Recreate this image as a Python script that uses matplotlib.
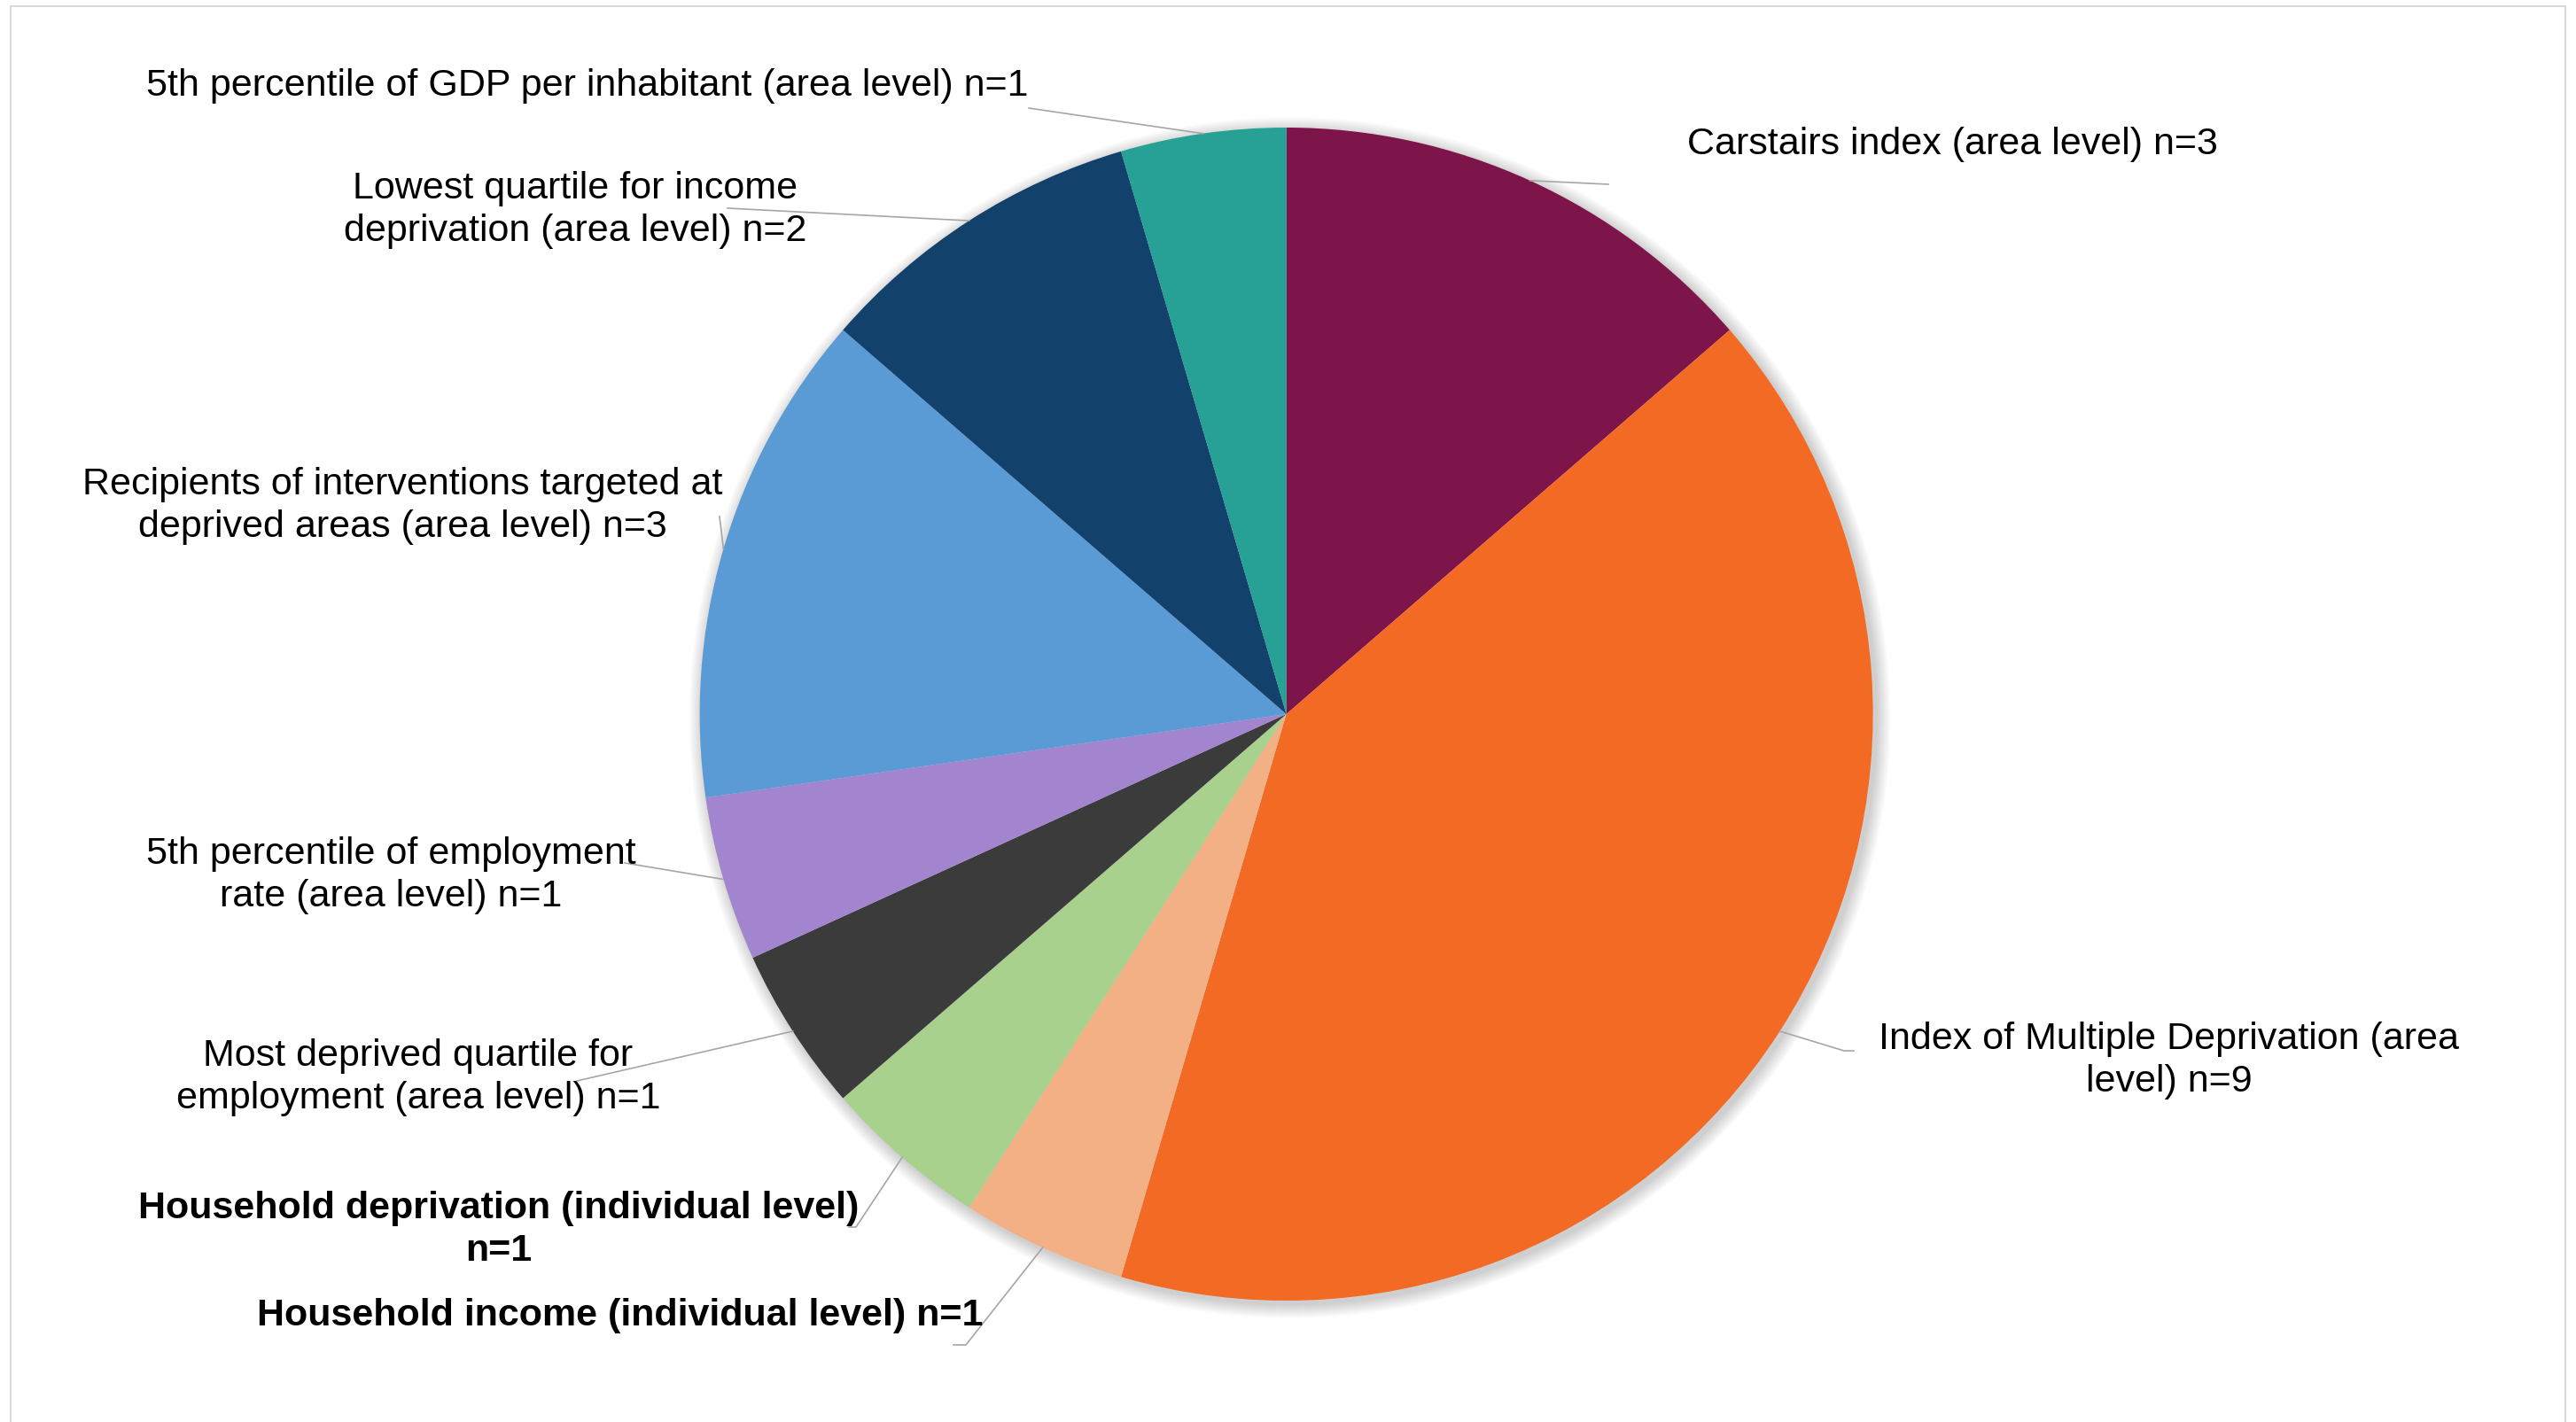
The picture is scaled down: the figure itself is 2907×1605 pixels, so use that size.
import numpy as np
import matplotlib
matplotlib.use("Agg")
import matplotlib.pyplot as plt
from matplotlib.patches import Circle, Rectangle

W, H = 2907, 1605

labels = [
    "Carstairs index (area level) n=3",
    "Index of Multiple Deprivation (area\nlevel) n=9",
    "Household income (individual level) n=1",
    "Household deprivation (individual level)\nn=1",
    "Most deprived quartile for\nemployment (area level) n=1",
    "5th percentile of employment\nrate (area level) n=1",
    "Recipients of interventions targeted at\ndeprived areas (area level) n=3",
    "Lowest quartile for income\ndeprivation (area level) n=2",
    "5th percentile of GDP per inhabitant (area level) n=1",
]
counts = [3, 9, 1, 1, 1, 1, 3, 2, 1]
colors = ["#7E154A", "#F26A24", "#F2B084", "#A9D18E", "#3B3B3B",
          "#A385CF", "#5B9BD5", "#12416B", "#27A195"]
bold = [False, False, True, True, False, False, False, False, False]

# layout in pixel coords (y measured from top)
label_xy = [(2203, 163), (2448, 1197), (700, 1485), (563, 1388), (472, 1216),
            (441, 988), (454, 571), (649, 237), (663, 97)]
leader_end = [[(1815, 208)], [(2081, 1186), (2092, 1186)], [(1090, 1518), (1076, 1518)],
              [(966, 1385), (958, 1385)], [(651, 1220)], [(705, 974)], [(812, 583)],
              [(821, 235)], [(1161, 122)]]

CX, CY, R = 1451.6, 806, 662

fig = plt.figure(figsize=(W / 100, H / 100), dpi=100)
ax = fig.add_axes([0, 0, 1, 1])

# border
ax.add_patch(Rectangle((12, -20), W - 24, H - 7 + 20, fill=False,
                       edgecolor="#D9D9D9", linewidth=1.5, zorder=0))

# soft shadow
for i in range(16):
    ax.add_patch(Circle((CX + 4, H - CY - 4), R + 16 - i, color="black",
                        alpha=0.012, linewidth=0, zorder=1))

wedges, _ = ax.pie(counts, colors=colors, startangle=90, counterclock=False,
                   center=(CX, H - CY), radius=R, frame=True,
                   wedgeprops=dict(linewidth=0, zorder=2))
ax.set_xlim(0, W)
ax.set_ylim(0, H)
ax.set_aspect("equal")
ax.axis("off")

for w, lab, (lx, ly), ends, b in zip(wedges, labels, label_xy, leader_end, bold):
    mid = np.deg2rad((w.theta1 + w.theta2) / 2)
    ex = CX + R * np.cos(mid)
    ey = (H - CY) + R * np.sin(mid)
    xs = [ex] + [p[0] for p in ends]
    ys = [ey] + [H - p[1] for p in ends]
    ax.plot(xs, ys, color="#A6A6A6", linewidth=1.2, zorder=3)
    ax.text(lx, H - ly, lab, ha="center", va="center", fontsize=31,
            family="Liberation Sans", fontweight="bold" if b else "normal",
            linespacing=1.27, color="#000000", zorder=4)

fig.savefig("out.png", dpi=100)
